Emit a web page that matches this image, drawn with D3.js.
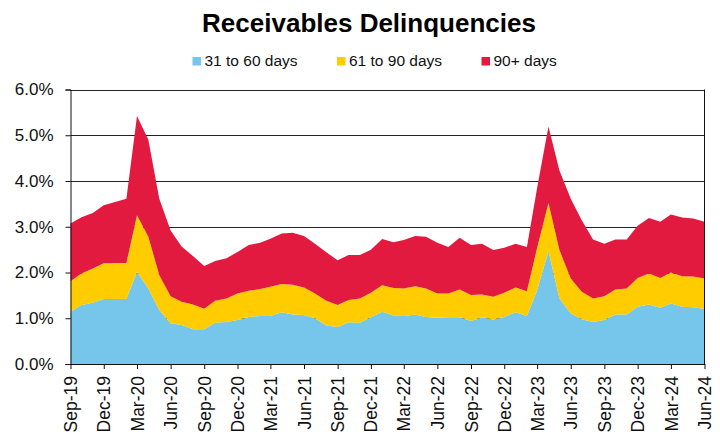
<!DOCTYPE html>
<html>
<head>
<meta charset="utf-8">
<script src="https://cdn.jsdelivr.net/npm/d3@7"></script>
<style>
  body { margin: 0; background: #fff; }
  svg { font-family: "Liberation Sans", Arial, sans-serif; display: block; }
</style>
</head>
<body>
<svg width="720" height="436"></svg>
<script>
var svg = d3.select('svg');

// months run Sep-19 .. Jun-24
var months = d3.timeMonth.range(new Date(2019, 8, 1), new Date(2024, 6, 1));

// values in percent
var days31to60 = [
  1.14, 1.29, 1.34, 1.42, 1.42, 1.42, 2.01, 1.65, 1.18, 0.89,
  0.85, 0.76, 0.76, 0.90, 0.92, 0.96, 1.03, 1.05, 1.05, 1.13,
  1.08, 1.07, 1.00, 0.84, 0.81, 0.91, 0.90, 1.02, 1.14, 1.06,
  1.05, 1.08, 1.03, 1.01, 1.02, 1.02, 0.94, 1.02, 0.97, 1.03,
  1.13, 1.05, 1.61, 2.47, 1.43, 1.11, 0.98, 0.92, 0.96, 1.08,
  1.08, 1.25, 1.30, 1.23, 1.32, 1.25, 1.24, 1.20
];
var days61to90 = [
  0.67, 0.69, 0.75, 0.78, 0.79, 0.79, 1.24, 1.13, 0.76, 0.59,
  0.51, 0.54, 0.45, 0.48, 0.51, 0.58, 0.57, 0.59, 0.64, 0.62,
  0.65, 0.60, 0.54, 0.54, 0.48, 0.49, 0.53, 0.54, 0.58, 0.60,
  0.60, 0.62, 0.62, 0.53, 0.52, 0.61, 0.57, 0.50, 0.50, 0.53,
  0.54, 0.54, 0.93, 1.05, 1.06, 0.76, 0.60, 0.51, 0.52, 0.55,
  0.57, 0.63, 0.68, 0.65, 0.68, 0.67, 0.67, 0.67
];
var days90plus = [
  1.26, 1.23, 1.21, 1.27, 1.33, 1.40, 2.17, 2.12, 1.67, 1.44,
  1.21, 1.06, 0.93, 0.87, 0.88, 0.91, 1.00, 1.01, 1.05, 1.10,
  1.14, 1.13, 1.09, 1.06, 0.98, 0.98, 0.95, 0.94, 1.01, 1.00,
  1.06, 1.10, 1.13, 1.11, 1.02, 1.13, 1.09, 1.11, 1.02, 0.98,
  0.96, 0.97, 1.31, 1.67, 1.74, 1.74, 1.56, 1.29, 1.15, 1.09,
  1.07, 1.14, 1.21, 1.23, 1.27, 1.28, 1.27, 1.24
];

var seriesKeys = ['31 to 60 days', '61 to 90 days', '90+ days'];
var seriesColors = ['#75c6ea', '#ffcc00', '#e31a40'];
var yTicks = [0, 1, 2, 3, 4, 5, 6];

// plot box (note: "top" is taken by window.top)
var plotLeft = 70.5, plotRight = 704.5, plotTop = 89.5, plotBottom = 364;

// build rows for the stack
var rows = months.map(function(m, i) {
  var r = { date: m };
  r[seriesKeys[0]] = days31to60[i];
  r[seriesKeys[1]] = days61to90[i];
  r[seriesKeys[2]] = days90plus[i];
  return r;
});

var stacked = d3.stack().keys(seriesKeys)(rows);

var x = d3.scaleTime()
  .domain([months[0], months[months.length - 1]])
  .range([plotLeft, plotRight]);

var y = d3.scaleLinear()
  .domain([0, 6])
  .range([plotBottom, plotTop]);

// gridlines (behind the areas)
svg.append('g')
  .selectAll('line')
  .data(yTicks.filter(function(d) { return d > 0; }))
  .enter()
  .append('line')
  .attr('x1', plotLeft)
  .attr('x2', plotRight)
  .attr('y1', function(d) { return Math.round(y(d)) + 0.5; })
  .attr('y2', function(d) { return Math.round(y(d)) + 0.5; })
  .attr('stroke', '#222')
  .attr('stroke-width', 1);

// stacked areas
var area = d3.area()
  .x(function(d) { return x(d.data.date); })
  .y0(function(d) { return y(d[0]); })
  .y1(function(d) { return y(d[1]); });

svg.append('g')
  .selectAll('path')
  .data(stacked)
  .enter()
  .append('path')
  .attr('d', area)
  .attr('fill', function(d, i) { return seriesColors[i]; });

// right border
svg.append('line')
  .attr('x1', plotRight).attr('x2', plotRight)
  .attr('y1', plotTop).attr('y2', plotBottom)
  .attr('stroke', '#111');

// y axis
var yAxis = svg.append('g')
  .attr('transform', 'translate(' + plotLeft + ',0)')
  .call(d3.axisLeft(y)
    .tickValues(yTicks)
    .tickSize(5)
    .tickFormat(function(d) { return d3.format('.1f')(d) + '%'; }));

yAxis.select('.domain').attr('stroke', '#111');
yAxis.selectAll('.tick line').attr('stroke', '#111');
yAxis.selectAll('.tick text')
  .attr('x', -17)
  .attr('fill', '#111')
  .style('font-size', '17px')
  .style('font-family', '"Liberation Sans", Arial, sans-serif');

// x axis, every third month
var xTicks = months.filter(function(d, i) { return i % 3 === 0; });

var xAxis = svg.append('g')
  .attr('transform', 'translate(0,' + plotBottom + ')')
  .call(d3.axisBottom(x)
    .tickValues(xTicks)
    .tickSize(5)
    .tickSizeOuter(0)
    .tickFormat(d3.timeFormat('%b-%y')));

xAxis.select('.domain').attr('stroke', '#111');
xAxis.selectAll('.tick line').attr('stroke', '#111');
xAxis.selectAll('.tick text')
  .attr('transform', 'rotate(-90)')
  .attr('x', -12)
  .attr('y', 0)
  .attr('dy', '0.35em')
  .attr('text-anchor', 'end')
  .attr('fill', '#111')
  .style('font-size', '17.5px')
  .style('font-family', '"Liberation Sans", Arial, sans-serif');

// title
svg.append('text')
  .attr('x', 369)
  .attr('y', 32)
  .attr('text-anchor', 'middle')
  .attr('font-size', '26px')
  .attr('font-weight', 'bold')
  .attr('fill', '#000')
  .text('Receivables Delinquencies');

// legend
var legend = svg.append('g')
  .selectAll('g')
  .data(seriesKeys)
  .enter()
  .append('g')
  .attr('transform', function(d, i) { return 'translate(' + (192.5 + i * 144.5) + ',0)'; });

legend.append('rect')
  .attr('x', 0)
  .attr('y', 57)
  .attr('width', 8.5)
  .attr('height', 8.5)
  .attr('fill', function(d, i) { return seriesColors[i]; });

legend.append('text')
  .attr('x', 12)
  .attr('y', 66)
  .attr('font-size', '15.5px')
  .attr('fill', '#111')
  .text(function(d) { return d; });
</script>
</body>
</html>
